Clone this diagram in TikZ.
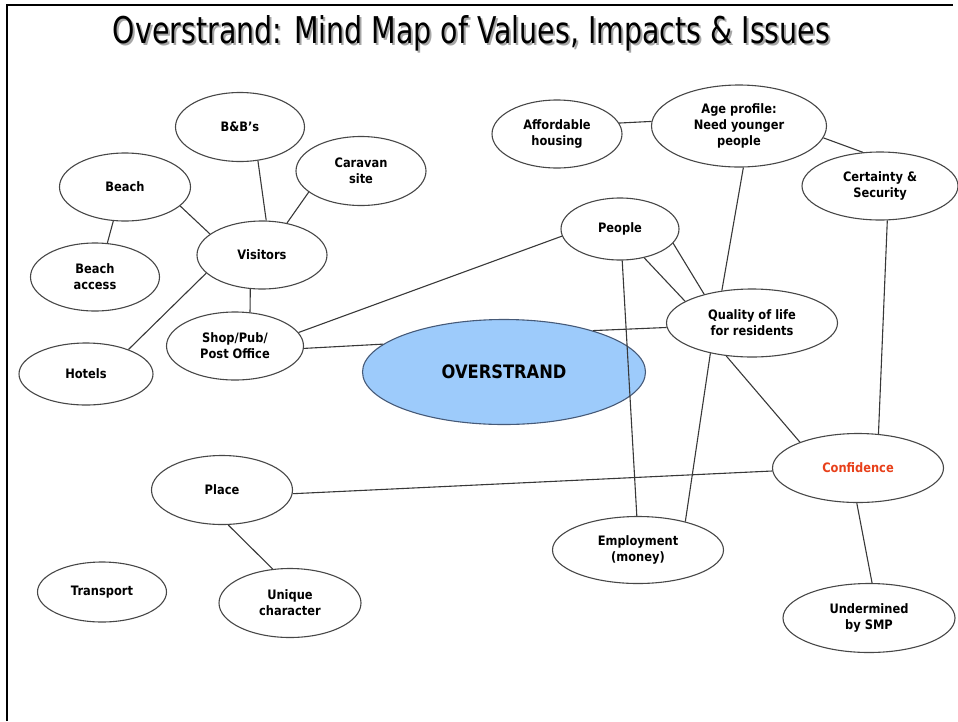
\documentclass[tikz,border=0pt]{standalone}
\usepackage{fontspec}
\setmainfont{DejaVu Sans}
\newfontfamily\nodefont{DejaVu Sans}[FakeStretch=0.88]
\usetikzlibrary{shapes.geometric}
\definecolor{ovfill}{RGB}{157,203,251}
\definecolor{ovdraw}{RGB}{70,90,120}
\definecolor{confred}{RGB}{232,64,26}
\tikzset{
  bubble/.style={ellipse, draw=black!72, line width=1.1pt, fill=white, inner sep=0pt,
    align=center, font=\nodefont\bfseries\fontsize{13}{16}\selectfont},
  link/.style={draw=black!78, line width=1.1pt},
  frameline/.style={draw=black, line width=2.5pt},
}
\newcommand{\titletext}{Overstrand: Mind Map of Values, Impacts \& Issues}
\newcommand{\titlebox}{\resizebox{717pt}{28pt}{\titletext}}
\begin{document}
\begin{tikzpicture}[x=1pt,y=-1pt]
\useasboundingbox (0,0) rectangle (958,721);
\coordinate (fbl) at (7,721);
\coordinate (ftl) at (7,5);
\coordinate (ftr) at (953,5);
\draw[frameline] (fbl) -- (ftl) -- (ftr);

% title with shadow (one text)
\node[anchor=north, inner sep=0pt] (title) at (471.5,15)
  {\rlap{\hspace{2pt}\raisebox{-2.5pt}{\color{black!35}\titlebox}}\titlebox};

% nodes
\node[bubble, minimum width=129pt, minimum height=69pt] (bnb) at (240,127) {B\&B’s};
\node[bubble, minimum width=130pt, minimum height=69pt] (caravan) at (361,171) {Caravan\\site};
\node[bubble, minimum width=131pt, minimum height=68pt] (beach) at (125,187) {Beach};
\node[bubble, minimum width=129pt, minimum height=68pt] (access) at (95,277) {Beach\\access};
\node[bubble, minimum width=130pt, minimum height=68pt] (visitors) at (262,255) {Visitors};
\node[bubble, minimum width=137pt, minimum height=68pt] (shop) at (235,346) {Shop/Pub/\\Post Office};
\node[bubble, minimum width=134pt, minimum height=62pt] (hotels) at (86,374) {Hotels};
\node[bubble, draw=ovdraw, fill=ovfill, minimum width=283pt, minimum height=105pt,
  font=\nodefont\bfseries\fontsize{18.5}{20}\selectfont] (over) at (504,372) {OVERSTRAND};
\node[bubble, minimum width=130pt, minimum height=68pt] (afford) at (557,134) {Affordable\\housing};
\node[bubble, minimum width=175pt, minimum height=82pt] (age) at (739,126) {Age profile:\\Need younger\\people};
\node[bubble, minimum width=156pt, minimum height=68pt] (cert) at (880,186) {Certainty \&\\Security};
\node[bubble, minimum width=118pt, minimum height=62pt] (people) at (620,229) {People};
\node[bubble, minimum width=171pt, minimum height=68pt] (qol) at (752,323) {Quality of life\\for residents};
\node[bubble, minimum width=171pt, minimum height=69pt, text=confred] (conf) at (858,468) {Confidence};
\node[bubble, minimum width=171pt, minimum height=67pt] (employ) at (638,550) {Employment\\(money)};
\node[bubble, minimum width=172pt, minimum height=69pt] (smp) at (869,618) {Undermined\\by SMP};
\node[bubble, minimum width=141pt, minimum height=69pt] (place) at (222,490) {Place};
\node[bubble, minimum width=129pt, minimum height=60pt] (transport) at (102,592) {Transport};
\node[bubble, minimum width=142pt, minimum height=69pt] (unique) at (290,603) {Unique\\character};

% connectors
\draw[link] (bnb.-62) -- (visitors.83);
\draw[link] (caravan.-158) -- (visitors.52);
\draw[link] (beach.-19) -- (visitors.158);
\draw[link] (beach.-109) -- (access.70);
\draw[link] (visitors.-109) -- (shop.66);
\draw[link] (visitors.-162) -- (hotels.30);
\draw[link] (shop.12) -- (people.-173);
\draw[link] (shop.-2) -- (over.167);
\draw[link] (over.25) -- (qol.183);
\draw[link] (people.-86) -- (employ.92);
\draw[link] (people.-50) -- (qol.162);
\draw[link] (people.-15) -- (qol.149);
\draw[link] (age.-84) -- (qol.133);
\draw[link] (afford.10) -- (age.177);
\draw[link] (age.-8) -- (cert.117);
\draw[link] (cert.-78) -- (conf.59);
\draw[link] (qol.-128) -- (conf.156);
\draw[link] (qol.-144) -- (employ.31);
\draw[link] (conf.182) -- (place.-3);
\draw[link] (conf.-92) -- (smp.85);
\draw[link] (place.-80) -- (unique.117);
\end{tikzpicture}
\end{document}
